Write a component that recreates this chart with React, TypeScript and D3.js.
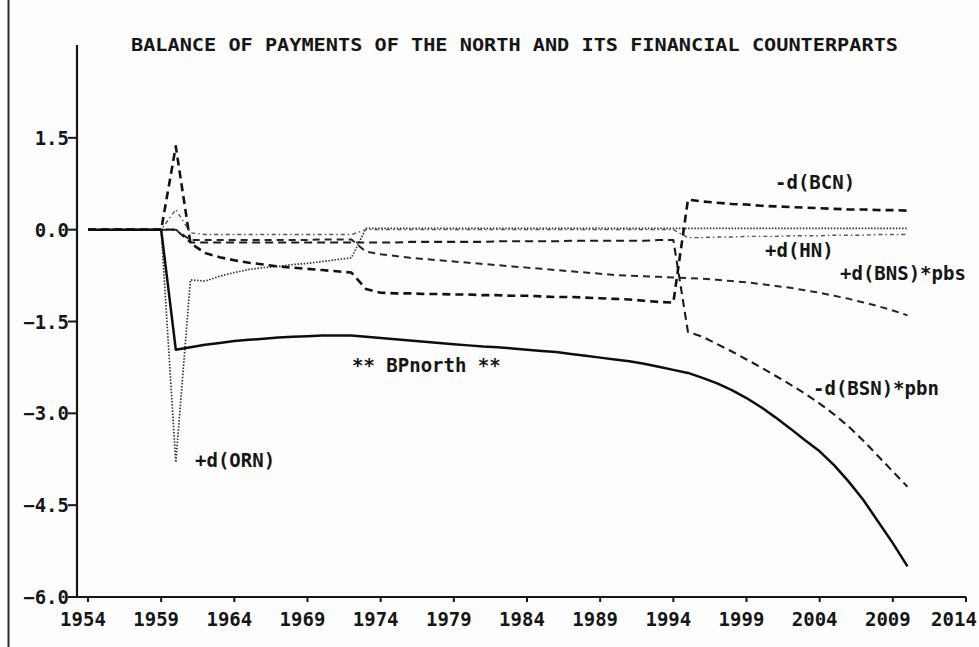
import React from "react";
import * as d3 from "d3";

// ---------- data ----------
const years = [
  1954, 1955, 1956, 1957, 1958, 1959, 1960, 1961, 1962, 1963, 1964, 1965, 1966, 1967, 1968, 1969,
  1970, 1971, 1972, 1973, 1974, 1975, 1976, 1977, 1978, 1979, 1980, 1981, 1982, 1983, 1984, 1985,
  1986, 1987, 1988, 1989, 1990, 1991, 1992, 1993, 1994, 1995, 1996, 1997, 1998, 1999, 2000, 2001,
  2002, 2003, 2004, 2005, 2006, 2007, 2008, 2009, 2010,
];

// ** BPnorth **
const bpNorth = [
  0, 0, 0, 0, 0, 0, -1.96, -1.92, -1.88, -1.85, -1.82, -1.8, -1.78, -1.76, -1.75, -1.74,
  -1.73, -1.73, -1.73, -1.75, -1.77, -1.79, -1.81, -1.83, -1.85, -1.87, -1.89, -1.91, -1.92, -1.94, -1.96, -1.98,
  -2.0, -2.03, -2.06, -2.09, -2.12, -2.15, -2.19, -2.24, -2.29, -2.34, -2.42, -2.51, -2.62, -2.75, -2.9, -3.07,
  -3.25, -3.44, -3.62, -3.85, -4.12, -4.42, -4.77, -5.12, -5.5,
];

// -d(BCN)
const dBCN = [
  0, 0, 0, 0, 0, 0, 1.36, -0.22, -0.38, -0.45, -0.5, -0.54, -0.57, -0.6, -0.62, -0.64,
  -0.66, -0.68, -0.7, -0.97, -1.03, -1.04, -1.04, -1.05, -1.05, -1.06, -1.06, -1.07, -1.07, -1.08, -1.08, -1.09,
  -1.1, -1.1, -1.11, -1.12, -1.13, -1.14, -1.16, -1.18, -1.19, 0.49, 0.46, 0.44, 0.42, 0.41, 0.39, 0.38,
  0.37, 0.36, 0.35, 0.34, 0.33, 0.33, 0.32, 0.32, 0.31,
];

// -d(BSN)*pbn
const dBSN = [
  0, 0, 0, 0, 0, 0, 0, -0.21, -0.21, -0.21, -0.21, -0.21, -0.21, -0.21, -0.21, -0.21,
  -0.21, -0.21, -0.21, -0.21, -0.21, -0.21, -0.2, -0.2, -0.2, -0.2, -0.2, -0.2, -0.19, -0.19, -0.19, -0.19,
  -0.19, -0.18, -0.18, -0.18, -0.18, -0.18, -0.18, -0.17, -0.17, -1.67, -1.75, -1.87, -1.99, -2.12, -2.25, -2.39,
  -2.53, -2.68, -2.84, -3.02, -3.22, -3.45, -3.7, -3.95, -4.2,
];

// +d(BNS)*pbs
const dBNS = [
  0, 0, 0, 0, 0, 0, 0, -0.17, -0.17, -0.17, -0.17, -0.17, -0.17, -0.17, -0.17, -0.17,
  -0.16, -0.16, -0.16, -0.36, -0.4, -0.43, -0.46, -0.48, -0.5, -0.52, -0.54, -0.56, -0.58, -0.6, -0.62, -0.64,
  -0.66, -0.68, -0.7, -0.72, -0.74, -0.75, -0.76, -0.77, -0.78, -0.79, -0.8, -0.82, -0.84, -0.86, -0.89, -0.92,
  -0.95, -0.99, -1.03, -1.08, -1.13, -1.19, -1.25, -1.32, -1.4,
];

// +d(HN)
const dHN = [
  0, 0, 0, 0, 0, 0, 0.33, -0.05, -0.08, -0.08, -0.08, -0.08, -0.08, -0.08, -0.08, -0.08,
  -0.08, -0.08, -0.08, 0, 0, 0, 0, 0, 0, 0, 0, 0, 0, 0, 0, 0,
  0, 0, 0, 0, 0, 0, 0, 0, 0, -0.13, -0.13, -0.12, -0.12, -0.11, -0.11, -0.11,
  -0.1, -0.1, -0.1, -0.09, -0.09, -0.09, -0.08, -0.08, -0.08,
];

// +d(ORN)
const dORN = [
  0, 0, 0, 0, 0, 0, -3.8, -0.82, -0.84, -0.76, -0.7, -0.65, -0.62, -0.6, -0.57, -0.55,
  -0.52, -0.49, -0.46, 0.02, 0.02, 0.02, 0.02, 0.02, 0.02, 0.02, 0.02, 0.02, 0.02, 0.02, 0.02, 0.02,
  0.02, 0.02, 0.02, 0.02, 0.02, 0.02, 0.02, 0.02, 0.02, 0.02, 0.02, 0.02, 0.02, 0.02, 0.02, 0.02,
  0.02, 0.02, 0.02, 0.02, 0.02, 0.02, 0.02, 0.02, 0.02,
];

const xTickYears = [1954, 1959, 1964, 1969, 1974, 1979, 1984, 1989, 1994, 1999, 2004, 2009, 2014];
const yTickValues = [1.5, 0, -1.5, -3, -4.5, -6];

const title = "BALANCE OF PAYMENTS OF THE NORTH AND ITS FINANCIAL COUNTERPARTS";

const seriesLabels = [
  { text: "-d(BCN)", x: 775, y: 189 },
  { text: "+d(HN)", x: 765, y: 257 },
  { text: "+d(BNS)*pbs", x: 840, y: 280 },
  { text: "-d(BSN)*pbn", x: 813, y: 395 },
  { text: "** BPnorth **", x: 352, y: 372 },
  { text: "+d(ORN)", x: 195, y: 467 },
];

// ---------- layout ----------
const W = 979;
const H = 647;
const AXIS_X = 77;
const AXIS_Y = 597;
const FONT = "'DejaVu Sans Mono', 'Liberation Mono', monospace";
const INK = "#161616";

export default function App() {
  const x = d3.scaleLinear().domain([1954, 2014]).range([88, 966]);
  const y = d3.scaleLinear().domain([-6, 3]).range([597, 46]);

  const line = (vals: number[]) =>
    d3
      .line<number>()
      .x((_, i) => x(years[i]))
      .y((v) => y(v))(vals) || "";

  const series = [
    { vals: dORN, stroke: "#333", width: 1.7, dash: "1.5 1.6" },
    { vals: dHN, stroke: "#555", width: 1.4, dash: "4 3 1.5 3" },
    { vals: dBNS, stroke: "#262626", width: 2, dash: "7 5" },
    { vals: dBSN, stroke: "#1c1c1c", width: 2.1, dash: "8 5" },
    { vals: dBCN, stroke: "#111", width: 2.6, dash: "8 5" },
    { vals: bpNorth, stroke: "#0d0d0d", width: 2.5, dash: "none" },
  ];

  const fmtY = (v: number) => d3.format(".1f")(v);
  // keep the last year label inside the picture
  const xLabelPos = (yr: number) => Math.min(x(yr) - 5, W - 25);

  return (
    <svg
      width={W}
      height={H}
      viewBox={`0 0 ${W} ${H}`}
      style={{ position: "absolute", left: 0, top: 0, background: "#fff" }}
    >
      <rect x={0} y={0} width={W} height={H} fill="#fdfdfd" />
      {/* scan edge */}
      <line x1={8.5} x2={8.5} y1={0} y2={H} stroke="#2a2a2a" strokeWidth={2} />

      {/* title */}
      <text
        x={131}
        y={51}
        fontFamily={FONT}
        fontWeight="bold"
        fontSize={18}
        fill={INK}
        textLength={767}
        lengthAdjust="spacingAndGlyphs"
      >
        {title}
      </text>

      {/* axes */}
      <line x1={AXIS_X} x2={AXIS_X} y1={45} y2={AXIS_Y} stroke={INK} strokeWidth={2.2} />
      <line x1={AXIS_X} x2={966} y1={AXIS_Y} y2={AXIS_Y} stroke={INK} strokeWidth={2.2} />

      {yTickValues.map((v) => (
        <g key={`yt${v}`}>
          <line x1={AXIS_X - 9} x2={AXIS_X} y1={y(v)} y2={y(v)} stroke={INK} strokeWidth={2} />
          <text
            x={AXIS_X - 8}
            y={y(v) + 7}
            textAnchor="end"
            fontFamily={FONT}
            fontWeight="bold"
            fontSize={19}
            fill={INK}
          >
            {fmtY(v)}
          </text>
        </g>
      ))}

      {xTickYears.map((yr) => (
        <g key={`xt${yr}`}>
          <line x1={x(yr)} x2={x(yr)} y1={AXIS_Y} y2={AXIS_Y + 5} stroke={INK} strokeWidth={2} />
          <text
            x={xLabelPos(yr)}
            y={626}
            textAnchor="middle"
            fontFamily={FONT}
            fontWeight="bold"
            fontSize={19}
            fill={INK}
          >
            {yr}
          </text>
        </g>
      ))}

      {/* series */}
      {series.map((s, i) => (
        <path
          key={`s${i}`}
          d={line(s.vals)}
          fill="none"
          stroke={s.stroke}
          strokeWidth={s.width}
          strokeDasharray={s.dash}
          strokeLinejoin="round"
        />
      ))}

      {/* series labels */}
      {seriesLabels.map((l) => (
        <text
          key={l.text}
          x={l.x}
          y={l.y}
          fontFamily={FONT}
          fontWeight="bold"
          fontSize={19}
          fill={INK}
        >
          {l.text}
        </text>
      ))}
    </svg>
  );
}
